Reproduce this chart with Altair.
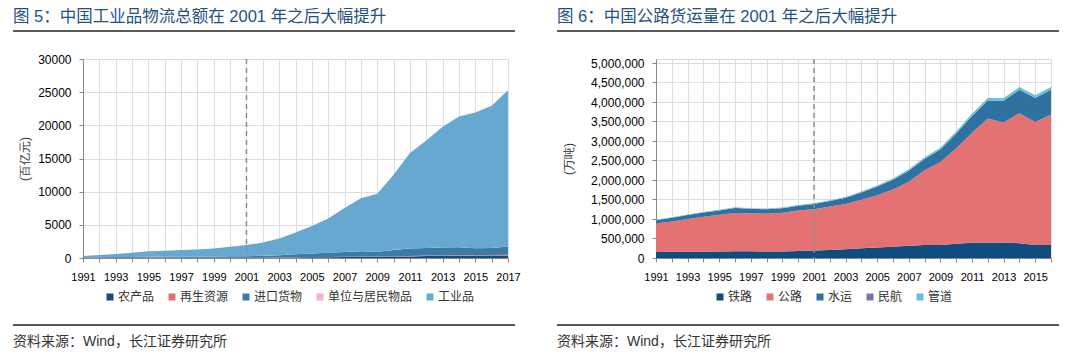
import altair as alt
import pandas as pd

FONT = "Liberation Sans, Noto Sans CJK SC"

# ---------- Panel 1: 社会物流总额构成 (百亿元) ----------
years1 = list(range(1991, 2018))
names1 = ["农产品", "再生资源", "进口货物", "单位与居民物品", "工业品"]
colors1 = ["#1a4a7a", "#e07070", "#3c7aa8", "#f4b6c2", "#67a8d1"]
agri = [30, 35, 40, 45, 50, 55, 58, 60, 62, 65, 70, 75, 80, 90, 100, 120, 150, 180, 200, 220, 230, 290, 300, 330, 350, 360, 370]
recycle = [5, 5, 6, 6, 7, 8, 8, 9, 10, 10, 12, 14, 16, 18, 20, 25, 30, 35, 40, 60, 80, 80, 80, 80, 80, 90, 110]
imports = [60, 80, 100, 110, 120, 120, 130, 130, 150, 180, 190, 230, 330, 450, 560, 640, 720, 790, 690, 940, 1120, 1150, 1210, 1200, 1040, 1050, 1250]
household = [1, 1, 1, 1, 1, 1, 1, 1, 1, 1, 2, 2, 2, 3, 3, 3, 4, 4, 4, 5, 5, 6, 6, 7, 8, 9, 10]
industrial = [204, 329, 453, 638, 822, 916, 1003, 1100, 1227, 1454, 1676, 2009, 2522, 3279, 4127, 5172, 6616, 7981, 8736, 11315, 14405, 16204, 18184, 19733, 20442, 21461, 23540]
title1 = "图 5：中国工业品物流总额在 2001 年之后大幅提升"
ytitle1 = "(百亿元)"
yticks1 = [0, 5000, 10000, 15000, 20000, 25000, 30000]

# ---------- Panel 2: 货运量 (万吨) ----------
years2 = list(range(1991, 2017))
names2 = ["铁路", "公路", "水运", "民航", "管道"]
colors2 = ["#0f4c80", "#e57272", "#2f71a0", "#7d72b4", "#66bfd6"]
rail = [152893, 157627, 162794, 163216, 165982, 171024, 172149, 164309, 167554, 178581, 193189, 204956, 224248, 249017, 269296, 288224, 314237, 330354, 333348, 364271, 393263, 390438, 396697, 381334, 335801, 333186]
road = [733907, 780941, 840256, 894914, 940387, 983860, 976536, 976004, 990444, 1038813, 1056312, 1116324, 1159957, 1244990, 1341778, 1466347, 1639432, 1916759, 2127834, 2448052, 2820100, 3188475, 3076648, 3332838, 3150019, 3341259]
water = [83370, 92490, 97938, 107091, 113194, 127430, 113406, 109555, 114608, 122391, 132675, 141832, 158070, 187394, 219648, 248703, 281199, 294510, 318996, 378949, 425968, 458705, 559785, 598283, 613567, 638238]
air = [45, 58, 69, 83, 101, 115, 125, 140, 170, 197, 171, 202, 219, 277, 307, 349, 402, 408, 446, 563, 557, 545, 561, 594, 629, 668]
pipe = [15578, 14783, 14845, 15092, 15274, 15992, 16002, 17419, 20232, 18700, 19439, 20133, 21998, 24734, 31037, 33436, 40552, 43906, 44598, 49972, 57073, 62274, 65209, 73752, 75870, 73411]
title2 = "图 6：中国公路货运量在 2001 年之后大幅提升"
ytitle2 = "(万吨)"
yticks2 = [i * 500000 for i in range(11)]

source = "资料来源：Wind，长江证券研究所"
marker_year = 2001

H = 199  # shared plot height


def long_df(years, names, series):
    rows = []
    for i, (n, s) in enumerate(zip(names, series)):
        for y, v in zip(years, s):
            rows.append({"year": y, "series": n, "idx": i, "value": v})
    return pd.DataFrame(rows)


def panel(df, names, colors, W, xmax, ymax, yvals, yfmt, ytitle, title,
          legx, rule_left, rule_right, title_pad):
    xenc = alt.X("year:Q",
                 scale=alt.Scale(domain=[1991, xmax], nice=False, zero=False),
                 axis=alt.Axis(values=list(range(1991, xmax + 1)), format="d",
                               labelExpr="datum.value % 2 == 1 ? datum.label : ''",
                               labelOverlap=False, labelFlush=False, title=None,
                               tickSize=4, labelPadding=9, labelFontSize=11))
    area = alt.Chart(df).mark_area(opacity=1, interpolate="linear").encode(
        x=xenc,
        y=alt.Y("value:Q", stack="zero",
                scale=alt.Scale(domain=[0, ymax], nice=False),
                axis=alt.Axis(values=yvals, format=yfmt, title=ytitle,
                              tickSize=4, labelPadding=8, labelFontSize=12,
                              titleFontSize=12, titleFontWeight="normal",
                              titlePadding=title_pad, titleColor="#333")),
        color=alt.Color("series:N", scale=alt.Scale(domain=names, range=colors),
                        legend=alt.Legend(orient="none", legendX=legx, legendY=H + 33,
                                          direction="horizontal", title=None,
                                          symbolType="square", symbolSize=49,
                                          symbolStrokeWidth=0, labelFontSize=12,
                                          labelOffset=2, columnPadding=11,
                                          labelColor="#333", labelFont=FONT)),
        order=alt.Order("idx:Q", sort="ascending"),
    )
    dashed = alt.Chart(pd.DataFrame({"year": [marker_year]})).mark_rule(
        color="#8c8c8c", strokeDash=[5, 4], strokeWidth=1.5
    ).encode(x=xenc)
    ttl = alt.Chart(pd.DataFrame({"t": [title]})).mark_text(
        align="left", baseline="middle", fontSize=16.5, color="#1f5282", font=FONT
    ).encode(text="t:N", x=alt.value(rule_left), y=alt.value(-42))
    rule_top = alt.Chart(pd.DataFrame({"a": [0]})).mark_rule(
        color="#222", strokeWidth=1.5
    ).encode(x=alt.value(rule_left), x2=alt.value(rule_right), y=alt.value(-28))
    rule_bot = alt.Chart(pd.DataFrame({"a": [0]})).mark_rule(
        color="#222", strokeWidth=1.5
    ).encode(x=alt.value(rule_left), x2=alt.value(rule_right), y=alt.value(H + 67))
    src = alt.Chart(pd.DataFrame({"t": [source]})).mark_text(
        align="left", baseline="middle", fontSize=14, color="#333", font=FONT
    ).encode(text="t:N", x=alt.value(rule_left), y=alt.value(H + 84))
    return alt.layer(area, dashed, ttl, rule_top, rule_bot, src).properties(width=W, height=H)


left = panel(long_df(years1, names1, [agri, recycle, imports, household, industrial]),
             names1, colors1, 425, 2017, 30000, yticks1, "d", ytitle1, title1,
             21, -70, 432, 6)
# 5,000,000 sits 4px below the plot top in the reference
right = panel(long_df(years2, names2, [rail, road, water, air, pipe]),
              names2, colors2, 395, 2016, 5102564, yticks2, ",d", ytitle2, title2,
              58, -99, 403, 15)

chart = alt.hconcat(left, right, spacing=34).resolve_scale(
    color="independent", x="independent", y="independent"
).properties(
    padding={"left": 3, "top": 0, "right": 5, "bottom": 0}
).configure_view(stroke=None).configure_axis(
    labelFont=FONT, titleFont=FONT, labelColor="#333", domainColor="#999",
    tickColor="#999", grid=False
).configure_axisX(labelOverlap=False).configure(background="white")

chart.save("out.html", embed_options={"renderer": "svg", "actions": False})
